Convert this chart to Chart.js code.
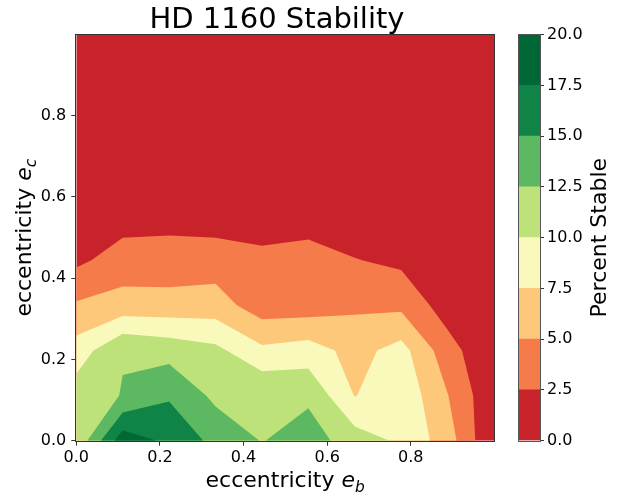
<!DOCTYPE html>
<html>
<head>
<meta charset="utf-8">
<script src="https://cdn.jsdelivr.net/npm/chart.js"></script>
<style>
  html, body { margin: 0; padding: 0; background: #fff; }
  #wrap { position: relative; width: 624px; height: 496px; }
  #main { position: absolute; left: 0; top: 0; }
  #cbar { position: absolute; left: 500px; top: 0; }
</style>
</head>
<body>
<div id="wrap">
  <canvas id="main" width="624" height="496" style="width:624px;height:496px"></canvas>
  <canvas id="cbar" width="124" height="496" style="width:124px;height:496px"></canvas>
</div>
<script>
// grille des excentricités (planète b en x, planète c en y)
const eccB = [0, 0.111, 0.222, 0.333, 0.444, 0.555, 0.666, 0.777, 0.888, 0.999];
const eccC = [0, 0.111, 0.222, 0.333, 0.444, 0.555, 0.666, 0.777, 0.888, 0.999];

// pourcentage de systèmes stables, une ligne par valeur de e_c
const stable_ec0 = [10.5, 19.0, 16.95, 14.3, 12.4, 13.7, 11.2, 9.6, 6.2, 0.0];
const stable_ec1 = [11.3, 12.6, 14.7, 11.93, 12.3, 12.03, 7.4, 9.4, 5.08, 0.39];
const stable_ec2 = [8.6, 12.38, 11.56, 10.62, 8.03, 8.65, 6.65, 8.42, 3.53, 0.21];
const stable_ec3 = [5.3, 6.0, 6.0, 6.16, 3.64, 3.7, 4.56, 4.43, 1.29, 0.15];
const stable_ec4 = [1.97, 3.6, 3.5, 3.74, 3.0, 3.2, 2.6, 1.96, 0.9, 0.1];
const stable_ec5 = [1.2, 1.4, 1.68, 1.26, 1.44, 1.68, 0.8, 1.0, 0.6, 0.1];
const stable_ec6 = [0.6, 0.8, 0.9, 0.7, 0.8, 0.9, 0.5, 0.5, 0.3, 0.05];
const stable_ec7 = [0.3, 0.4, 0.5, 0.4, 0.4, 0.5, 0.3, 0.2, 0.1, 0.0];
const stable_ec8 = [0.1, 0.2, 0.2, 0.2, 0.2, 0.2, 0.1, 0.1, 0.05, 0.0];
const stable_ec9 = [0.0, 0.1, 0.1, 0.1, 0.05, 0.1, 0.0, 0.0, 0.0, 0.0];
const percentStable = [stable_ec0, stable_ec1, stable_ec2, stable_ec3, stable_ec4,
                       stable_ec5, stable_ec6, stable_ec7, stable_ec8, stable_ec9];

// niveaux des contours et couleurs (RdYlGn)
const levels = [0, 2.5, 5, 7.5, 10, 12.5, 15, 17.5, 20];
const bandColors = ['#c8232a', '#f57b4b', '#fdc87a', '#f9f9bb', '#bde27a', '#5db961', '#0f8446', '#006837'];
const axisTicks = [0, 0.2, 0.4, 0.6, 0.8];

const FONT = 'DejaVu Sans';

// remplissage des contours : pour chaque niveau, union des morceaux de cellules où z >= niveau
const contourPlugin = {
    id: 'contourFill',
    beforeDatasetsDraw(chart) {
        const { ctx, chartArea, scales } = chart;
        const xs = scales.x, ys = scales.y;
        ctx.save();
        ctx.beginPath();
        ctx.rect(chartArea.left, chartArea.top, chartArea.width, chartArea.height);
        ctx.clip();
        for (let k = 0; k < bandColors.length; k++) {
            const t = levels[k];
            ctx.beginPath();
            for (let j = 0; j < eccC.length - 1; j++) {
                for (let i = 0; i < eccB.length - 1; i++) {
                    const corners = [
                        [eccB[i], eccC[j], percentStable[j][i]],
                        [eccB[i + 1], eccC[j], percentStable[j][i + 1]],
                        [eccB[i + 1], eccC[j + 1], percentStable[j + 1][i + 1]],
                        [eccB[i], eccC[j + 1], percentStable[j + 1][i]]
                    ];
                    const poly = [];
                    for (let c = 0; c < 4; c++) {
                        const a = corners[c], b = corners[(c + 1) % 4];
                        const ina = a[2] >= t, inb = b[2] >= t;
                        if (ina) poly.push([a[0], a[1]]);
                        if (ina !== inb) {
                            const f = (t - a[2]) / (b[2] - a[2]);
                            poly.push([a[0] + f * (b[0] - a[0]), a[1] + f * (b[1] - a[1])]);
                        }
                    }
                    if (poly.length < 3) continue;
                    poly.forEach((p, n) => {
                        const px = xs.getPixelForValue(p[0]);
                        const py = ys.getPixelForValue(p[1]);
                        if (n === 0) ctx.moveTo(px, py); else ctx.lineTo(px, py);
                    });
                    ctx.closePath();
                }
            }
            ctx.fillStyle = bandColors[k];
            ctx.fill();
        }
        ctx.restore();
    }
};

// texte "eccentricity e_x" avec e en italique et indice
function drawEccLabel(ctx, sub, size) {
    const main = 'eccentricity ';
    ctx.font = size + 'px "' + FONT + '"';
    const w1 = ctx.measureText(main).width;
    ctx.font = 'italic ' + size + 'px "' + FONT + '"';
    const w2 = ctx.measureText('e').width;
    ctx.font = 'italic ' + (size * 0.7) + 'px "' + FONT + '"';
    const w3 = ctx.measureText(sub).width;
    let x = -(w1 + w2 + w3) / 2;
    ctx.textAlign = 'left';
    ctx.textBaseline = 'alphabetic';
    ctx.font = size + 'px "' + FONT + '"';
    ctx.fillText(main, x, 0);
    x += w1;
    ctx.font = 'italic ' + size + 'px "' + FONT + '"';
    ctx.fillText('e', x, 0);
    x += w2;
    ctx.font = 'italic ' + (size * 0.7) + 'px "' + FONT + '"';
    ctx.fillText(sub, x, size * 0.22);
}

const framePlugin = {
    id: 'frame',
    afterDraw(chart) {
        const { ctx, chartArea } = chart;
        ctx.save();
        ctx.strokeStyle = '#333';
        ctx.lineWidth = 1;
        ctx.strokeRect(Math.round(chartArea.left) - 0.5, Math.round(chartArea.top) - 0.5,
            Math.round(chartArea.width) + 1, Math.round(chartArea.height) + 1);

        ctx.fillStyle = '#000';
        ctx.font = '29px "' + FONT + '"';
        ctx.textAlign = 'center';
        ctx.textBaseline = 'alphabetic';
        ctx.fillText('HD 1160 Stability', 277, 28);

        const cx = (chartArea.left + chartArea.right) / 2;
        const cy = (chartArea.top + chartArea.bottom) / 2;
        ctx.save();
        ctx.translate(cx, 487);
        drawEccLabel(ctx, 'b', 22);
        ctx.restore();

        ctx.save();
        ctx.translate(31, cy);
        ctx.rotate(-Math.PI / 2);
        drawEccLabel(ctx, 'c', 22);
        ctx.restore();
        ctx.restore();
    }
};

const tickFont = { family: FONT, size: 16 };

new Chart(document.getElementById('main'), {
    type: 'scatter',
    data: {
        datasets: [{
            data: eccB.map((b, i) => ({ x: b, y: eccC[i] })),
            pointRadius: 0,
            showLine: false
        }]
    },
    options: {
        responsive: false,
        animation: false,
        layout: { padding: { left: 0, top: 34.7, right: 130, bottom: 0 } },
        plugins: { legend: { display: false }, tooltip: { enabled: false } },
        scales: {
            x: {
                type: 'linear',
                min: 0,
                max: 0.999,
                afterFit(s) { s.height = 55.3; },
                afterBuildTicks(s) { s.ticks = axisTicks.map(v => ({ value: v })); },
                grid: { drawOnChartArea: false, drawTicks: true, tickLength: 5, color: '#333' },
                border: { display: false },
                ticks: { font: tickFont, color: '#000', padding: 3, maxRotation: 0, callback: v => v.toFixed(1) }
            },
            y: {
                type: 'linear',
                min: 0,
                max: 0.999,
                afterFit(s) { s.width = 76.3; },
                afterBuildTicks(s) { s.ticks = axisTicks.map(v => ({ value: v })); },
                grid: { drawOnChartArea: false, drawTicks: true, tickLength: 5, color: '#333' },
                border: { display: false },
                ticks: { font: tickFont, color: '#000', padding: 5, callback: v => v.toFixed(1) }
            }
        }
    },
    plugins: [contourPlugin, framePlugin]
});

// barre de couleurs
const cbarPlugin = {
    id: 'cbarFrame',
    afterDraw(chart) {
        const { ctx, chartArea } = chart;
        ctx.save();
        ctx.strokeStyle = '#555';
        ctx.lineWidth = 1;
        ctx.strokeRect(Math.round(chartArea.left) - 0.5, Math.round(chartArea.top) - 0.5,
            Math.round(chartArea.width) + 1, Math.round(chartArea.height) + 1);
        ctx.fillStyle = '#000';
        ctx.font = '22px "' + FONT + '"';
        ctx.textAlign = 'center';
        ctx.textBaseline = 'middle';
        ctx.translate(100, (chartArea.top + chartArea.bottom) / 2);
        ctx.rotate(-Math.PI / 2);
        ctx.fillText('Percent Stable', 0, 0);
        ctx.restore();
    }
};

new Chart(document.getElementById('cbar'), {
    type: 'bar',
    data: {
        labels: [''],
        datasets: bandColors.map((c, k) => ({
            data: [levels[k + 1] - levels[k]],
            backgroundColor: c,
            borderWidth: 0,
            barPercentage: 1,
            categoryPercentage: 1
        }))
    },
    options: {
        responsive: false,
        animation: false,
        layout: { padding: { left: 19, top: 34.7, right: 0, bottom: 55.3 } },
        plugins: { legend: { display: false }, tooltip: { enabled: false } },
        scales: {
            x: { display: false, stacked: true },
            y: {
                position: 'right',
                stacked: true,
                min: 0,
                max: 20,
                afterFit(s) { s.width = 84; },
                afterBuildTicks(s) { s.ticks = levels.map(v => ({ value: v })); },
                grid: { drawOnChartArea: false, drawTicks: true, tickLength: 4, color: '#333' },
                border: { display: false },
                ticks: { font: tickFont, color: '#000', padding: 3, callback: v => v.toFixed(1) }
            }
        }
    },
    plugins: [cbarPlugin]
});
</script>
</body>
</html>
